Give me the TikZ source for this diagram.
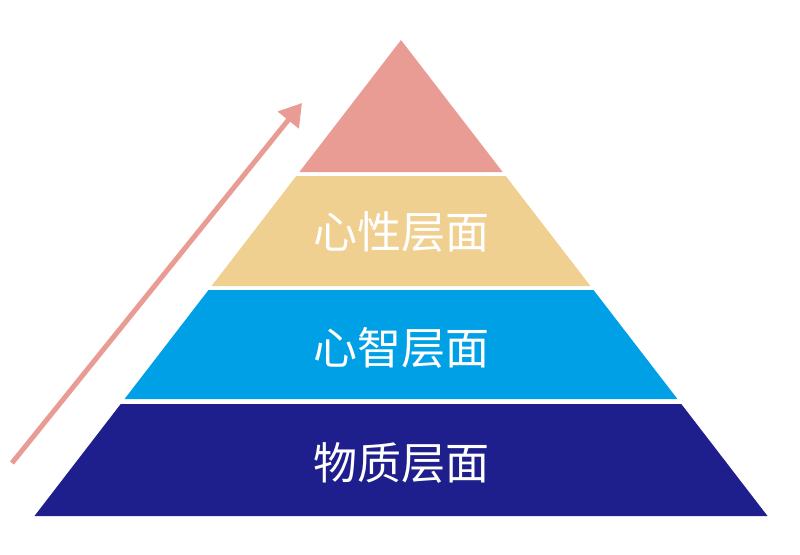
\documentclass[tikz,border=0pt]{standalone}
\usepackage{fontspec}
\newfontfamily\cjk{Noto Sans CJK SC}
\usetikzlibrary{arrows.meta}
\definecolor{cTop}{HTML}{E89C94}
\definecolor{cTan}{HTML}{F0D090}
\definecolor{cBlue}{HTML}{00A0E6}
\definecolor{cNavy}{HTML}{1E1E8C}
\tikzset{lbl/.style={text=white,font=\cjk\fontsize{44}{50}\selectfont}}
\begin{document}
\begin{tikzpicture}[x=1pt,y=-1pt]
\useasboundingbox (0,0) rectangle (800,554);
\def\hw#1{(0.77*(#1-40))}
\fill[cTop] (401,40) -- ({401-0.77*132},172) -- ({401+0.77*132},172) -- cycle;
\fill[cTan] ({401-0.77*136},176) -- ({401+0.77*136},176) -- ({401+0.77*246},286) -- ({401-0.77*246},286) -- cycle;
\fill[cBlue] ({401-0.77*250},290) -- ({401+0.77*250},290) -- ({401+0.77*359},399) -- ({401-0.77*359},399) -- cycle;
\fill[cNavy] ({401-0.77*364},404) -- ({401+0.77*364},404) -- ({401+0.77*476},516) -- ({401-0.77*476},516) -- cycle;
\node[lbl] (a) at (401,232) {心性层面};
\node[lbl] (b) at (401,348) {心智层面};
\node[lbl] (c) at (401,463) {物质层面};
\coordinate (s) at (12,463);
\coordinate (e) at (302,103);
\draw[cTop,line width=5pt,-{Triangle[length=22pt,width=26pt]}] (s) -- (e);
\end{tikzpicture}
\end{document}
